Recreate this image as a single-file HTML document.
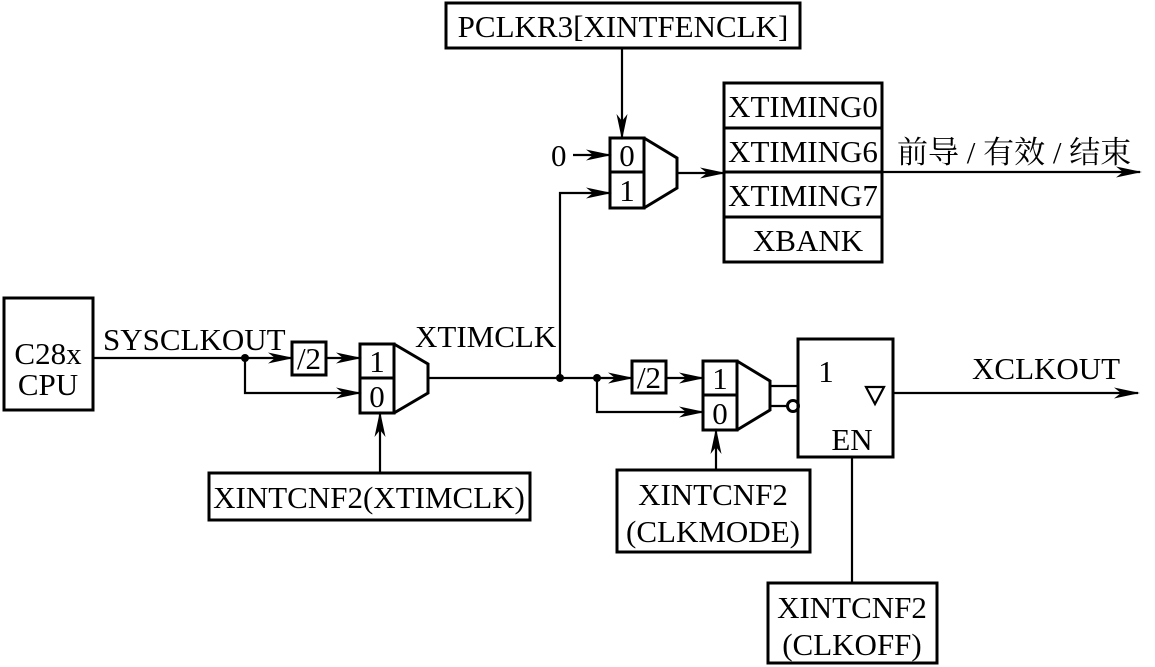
<!DOCTYPE html>
<html><head><style>body{margin:0;background:#fff}svg{display:block}</style></head><body>
<svg width="1155" height="667" viewBox="0 0 1155 667" xmlns="http://www.w3.org/2000/svg" font-family="Liberation Serif, serif" font-size="31">
<defs><marker id="a" markerWidth="26" markerHeight="11" refX="24" refY="5.5" orient="auto" markerUnits="userSpaceOnUse"><path d="M0,0 L26,5.5 L0,11 L7,5.5 Z" fill="#000"/></marker></defs>
<g fill="none" stroke="#000" stroke-width="3">
<rect x="4" y="298" width="89" height="112"/>
<rect x="292" y="342" width="34" height="33"/>
<rect x="360" y="344" width="34" height="69"/><line x1="360" y1="378" x2="394" y2="378"/>
<path d="M394,344 L428,364 L428,393 L394,413"/>
<rect x="209" y="473" width="321" height="47"/>
<rect x="632" y="361" width="34" height="32"/>
<rect x="703" y="361" width="34" height="69"/><line x1="703" y1="395" x2="737" y2="395"/>
<path d="M737,361 L770,381 L770,410 L737,430"/>
<rect x="798" y="339" width="95" height="118"/>
<rect x="617" y="470" width="193" height="82"/>
<rect x="768" y="583" width="169" height="80"/>
<rect x="610" y="138" width="34" height="70"/><line x1="610" y1="172" x2="644" y2="172"/>
<path d="M644,138 L677,158 L677,188 L644,208"/>
<rect x="446" y="3" width="354" height="45"/>
<rect x="724" y="83" width="158" height="179"/>
<line x1="724" y1="128" x2="882" y2="128"/><line x1="724" y1="172" x2="882" y2="172"/><line x1="724" y1="217" x2="882" y2="217"/>
</g>
<g fill="none" stroke="#000" stroke-width="2.2">
<line x1="93" y1="358" x2="292" y2="358" marker-end="url(#a)"/>
<line x1="326" y1="358" x2="360" y2="358" marker-end="url(#a)"/>
<polyline points="245,358 245,393 360,393" marker-end="url(#a)"/>
<line x1="380" y1="473" x2="380" y2="413" marker-end="url(#a)"/>
<line x1="428" y1="378" x2="597" y2="378"/>
<line x1="597" y1="378" x2="632" y2="378" marker-end="url(#a)"/>
<line x1="666" y1="378" x2="703" y2="378" marker-end="url(#a)"/>
<polyline points="597,378 597,412 703,412" marker-end="url(#a)"/>
<line x1="716" y1="470" x2="716" y2="430" marker-end="url(#a)"/>
<line x1="770" y1="386" x2="798" y2="386"/>
<line x1="770" y1="406" x2="787" y2="406"/>
<circle cx="793" cy="406" r="5.5" stroke-width="3"/>
<line x1="893" y1="393" x2="1138" y2="393" marker-end="url(#a)"/>
<line x1="852" y1="583" x2="852" y2="457"/>
<path d="M866,387 L884,387 L875,404 Z"/>
<polyline points="560,378 560,193 610,193" marker-end="url(#a)"/>
<line x1="573" y1="155" x2="610" y2="155" marker-end="url(#a)"/>
<line x1="622" y1="48" x2="622" y2="138" marker-end="url(#a)"/>
<line x1="677" y1="173" x2="724" y2="173" marker-end="url(#a)"/>
<line x1="882" y1="172" x2="1140" y2="172" marker-end="url(#a)"/>
</g>
<circle cx="245" cy="358" r="4"/><circle cx="560" cy="378" r="4"/><circle cx="597" cy="378" r="4"/>
<g text-anchor="middle">
<text x="48" y="364">C28x</text><text x="48" y="395">CPU</text>
<text x="309" y="369">/2</text>
<text x="377" y="372">1</text><text x="377" y="407">0</text>
<text x="369" y="508">XINTCNF2(XTIMCLK)</text>
<text x="649" y="388">/2</text>
<text x="720" y="389">1</text><text x="720" y="424">0</text>
<text x="826" y="382">1</text><text x="852" y="450">EN</text>
<text x="713" y="505">XINTCNF2</text><text x="713" y="542">(CLKMODE)</text>
<text x="852" y="618">XINTCNF2</text><text x="852" y="655">(CLKOFF)</text>
<text x="627" y="166">0</text><text x="627" y="201">1</text>
<text x="623" y="37">PCLKR3[XINTFENCLK]</text>
<text x="803" y="117">XTIMING0</text><text x="803" y="162">XTIMING6</text><text x="803" y="206">XTIMING7</text><text x="808" y="251">XBANK</text>
</g>
<text x="103" y="350">SYSCLKOUT</text>
<text x="415" y="347">XTIMCLK</text>
<text x="972" y="379">XCLKOUT</text>
<text x="551" y="166">0</text>
<text x="897" y="163" font-family="Liberation Serif, Noto Serif CJK SC, serif">前导 / 有效 / 结束</text>
</svg>
</body></html>
